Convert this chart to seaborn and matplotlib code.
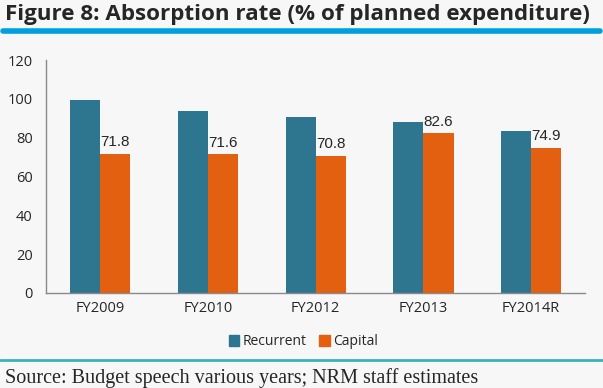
import pandas as pd
import numpy as np
import matplotlib.pyplot as plt
import seaborn as sns
from matplotlib.lines import Line2D

years = ['FY2009', 'FY2010', 'FY2012', 'FY2013', 'FY2014R']
recurrent = [99.5, 93.9, 90.8, 88.3, 83.7]
capital = [71.8, 71.6, 70.8, 82.6, 74.9]
series_names = ['Recurrent', 'Capital']

df = pd.DataFrame({
    'year': years * 2,
    'rate': recurrent + capital,
    'type': ['Recurrent'] * len(years) + ['Capital'] * len(years),
})

bg = '#f7f7f7'
pal = {'Recurrent': '#2e7590', 'Capital': '#e2600f'}

sns.set_style('white')
plt.rcParams['font.family'] = ['Open Sans', 'DejaVu Sans']

fig = plt.figure(figsize=(6.03, 3.88), dpi=100, facecolor=bg)
ax = fig.add_axes([0.077, 0.245, 0.893, 0.6])
ax.set_facecolor(bg)

sns.barplot(data=df, x='year', y='rate', hue='type', palette=pal,
            width=0.56, saturation=1, ax=ax, legend=False, linewidth=0)

ax.bar_label(ax.containers[1], fmt='%.1f', padding=3, fontsize=11,
             family=['Liberation Sans', 'DejaVu Sans'])

ax.set_ylim(0, 120)
ax.set_xlim(-0.5, len(years) - 0.5)
ax.set_yticks(np.arange(0, 121, 20))
ax.set_xlabel('')
ax.set_ylabel('')
for s in ['top', 'right']:
    ax.spines[s].set_visible(False)
for s in ['left', 'bottom']:
    ax.spines[s].set_color('#8a8a8a')
    ax.spines[s].set_linewidth(1)
ax.tick_params(axis='y', length=4, color='#8a8a8a', labelsize=10.5, pad=6)
ax.tick_params(axis='x', length=0, labelsize=10.5, pad=6)
ax.set_xticks(np.arange(-0.5, len(years), 1), minor=True)
ax.tick_params(axis='x', which='minor', length=5, color='#8a8a8a')

handles = [plt.Rectangle((0, 0), 1, 1, color=pal[n]) for n in series_names]
fig.legend(handles, series_names, loc='center', bbox_to_anchor=(0.503, 0.119),
           ncol=2, frameon=False, fontsize=10, handlelength=0.75,
           handleheight=0.8, handletextpad=0.25, columnspacing=0.9)

fig.text(0.008, 0.962, 'Figure 8: Absorption rate (% of planned expenditure)',
         fontsize=16.1, fontweight='bold', va='center', ha='left')
fig.add_artist(Line2D([0.005, 0.995], [0.92, 0.92], color='#00a0e0', lw=4))
fig.add_artist(Line2D([0.0, 1.0], [0.072, 0.072], color='#3bb0c0', lw=2))
fig.text(0.008, 0.013, 'Source: Budget speech various years; NRM staff estimates',
         fontsize=14.5, family=['Liberation Serif', 'DejaVu Serif'],
         va='baseline', ha='left')

plt.savefig('out.png', dpi=100, facecolor=bg)
